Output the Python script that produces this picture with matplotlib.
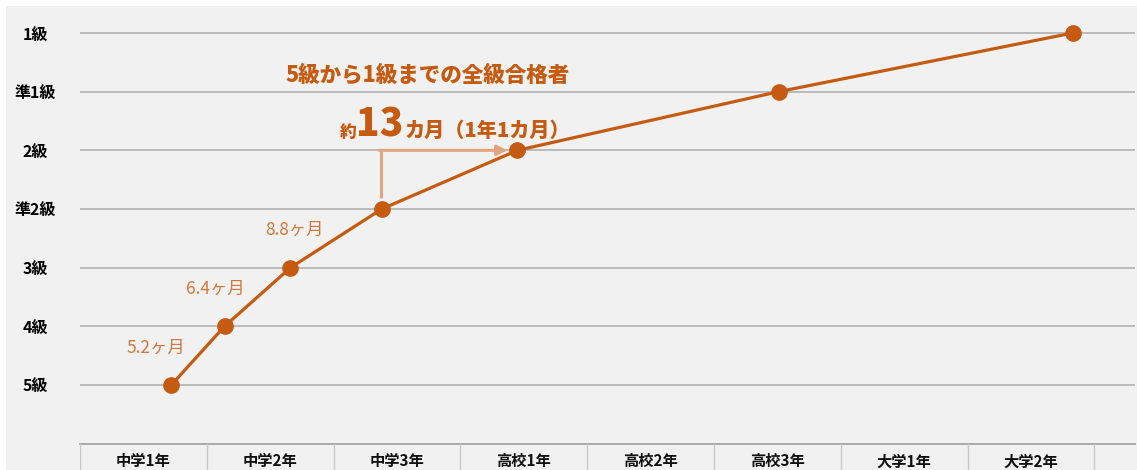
import matplotlib
matplotlib.use("Agg")
import matplotlib.pyplot as plt
from matplotlib.patches import Rectangle

# ── Data ──────────────────────────────────────────────────────────────────────
grades      = ["5級", "4級", "3級", "準2級", "2級", "準1級", "1級"]
grade_level = [0, 1, 2, 3, 4, 5, 6]
# time of passing, in school years from the start of 中学1年
pass_year   = [0.72, 1.14, 1.66, 2.38, 3.45, 5.51, 7.83]
school_years = ["中学1年", "中学2年", "中学3年", "高校1年",
                "高校2年", "高校3年", "大学1年", "大学2年"]
gap_labels  = ["5.2ヶ月", "6.4ヶ月", "8.8ヶ月"]

# ── Style ─────────────────────────────────────────────────────────────────────
plt.rcParams['font.family'] = ['Noto Sans CJK JP', 'DejaVu Sans']
ORANGE   = '#c55a11'
LABEL_C  = '#d4773a'
ARROW_C  = '#e0a67e'
GRID_C   = '#ababab'
BG       = '#f1f1f1'

W, H = 1137, 470
fig = plt.figure(figsize=(W / 100, H / 100), dpi=100, facecolor='white')
fig.patches.append(Rectangle((6 / W, 0), 1, 1 - 6 / H, transform=fig.transFigure,
                             facecolor=BG, edgecolor='none', zorder=-10))

x_max = 8.32
ax = fig.add_axes([80 / W, 26 / H, 1055 / W, (H - 26 - 6) / H])
ax.set_facecolor('none')
ax.set_xlim(0, x_max)
ax.set_ylim(-1.006, 6.46)
for s in ax.spines.values():
    s.set_visible(False)
ax.set_xticks([])
ax.set_yticks(grade_level)
ax.set_yticklabels(grades, fontsize=11.5, fontweight='bold', ha='center')
ax.tick_params(axis='y', length=0, pad=32)
ax.grid(axis='y', color=GRID_C, lw=1.1)
ax.set_axisbelow(True)

# main line
ax.plot(pass_year, grade_level, color=ORANGE, lw=2.3, marker='o',
        markersize=11, zorder=3)

# month labels for the first gaps
for i, lab in enumerate(gap_labels):
    mx = (pass_year[i] + pass_year[i + 1]) / 2
    my = (grade_level[i] + grade_level[i + 1]) / 2
    ax.annotate(lab, xy=(mx, my), xytext=(-30, 6), textcoords='offset points',
                ha='center', va='center', color=LABEL_C, fontsize=12.5)

# elbow arrow from 準2級 to 2級
x0, x1 = pass_year[3], pass_year[4]
ax.plot([x0 - 0.01, x0 - 0.01], [grade_level[3] + 0.19, grade_level[4]],
        color=ARROW_C, lw=2.2, solid_capstyle='butt', zorder=2)
ax.annotate('', xy=(x1 - 0.08, grade_level[4]), xytext=(x0 - 0.02, grade_level[4]),
            arrowprops=dict(arrowstyle='-|>,head_length=0.6,head_width=0.3',
                            color=ARROW_C, lw=2.2, shrinkA=0, shrinkB=0), zorder=2)

# headline texts
ax.text(2.745, 5.28, "5級から1級までの全級合格者", ha='center', va='center',
        color=ORANGE, fontsize=15.5, fontweight='heavy')
base = 4.23
ax.text(2.05, base, "約", ha='left', va='baseline', color=ORANGE,
        fontsize=12, fontweight='heavy')
ax.text(2.175, base, "13", ha='left', va='baseline', color=ORANGE,
        fontsize=28, fontweight='heavy')
ax.text(2.56, base, "カ月（1年1カ月）", ha='left', va='baseline', color=ORANGE,
        fontsize=14.5, fontweight='heavy')

# school-year table at the bottom
tx = fig.add_axes([80 / W, 0, 1055 / W, 26 / H])
tx.set_facecolor('none')
tx.set_xlim(0, x_max)
tx.set_ylim(0, 1)
tx.axis('off')
tx.axhline(1, color=GRID_C, lw=1.4, clip_on=False)
for k in range(len(school_years) + 1):
    tx.axvline(k, color='#c8c8c8', lw=1)
for k, name in enumerate(school_years):
    tx.text(k + 0.5, 0.33, name, ha='center', va='center',
            fontsize=11, fontweight='bold', color='#111111')

fig.savefig('out.png', dpi=100, facecolor=fig.get_facecolor())
